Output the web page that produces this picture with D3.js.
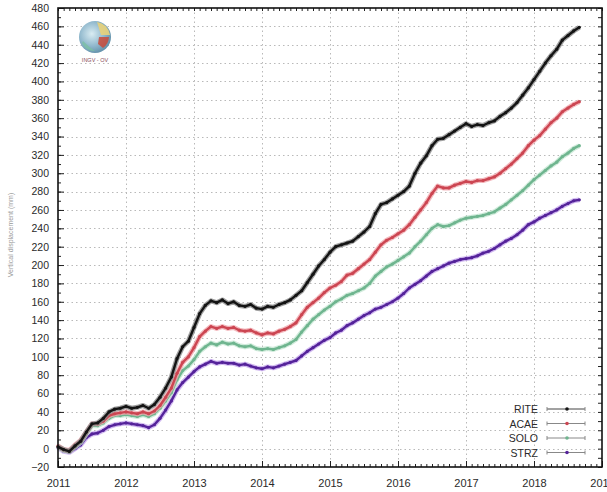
<!DOCTYPE html>
<html>
<head>
<meta charset="utf-8">
<script src="https://cdn.jsdelivr.net/npm/d3@7"></script>
<style>
  html, body { margin: 0; padding: 0; background: #fff; }
  svg { display: block; font-family: "Liberation Sans", Arial, sans-serif; }
</style>
</head>
<body>
<svg id="chart" width="607" height="492"></svg>
<script>
// Monthly samples, Jan 2011 onward (value in mm)
const startYear = 2011;
const stations = ["RITE", "ACAE", "SOLO", "STRZ"];
const rite = [2,-1,-3,3,8,18,27,28,33,40,43,44,
  46,44,45,47,44,48,56,66,78,98,111,117,
  132,147,156,161,159,162,158,160,156,155,157,153,
  152,155,154,157,159,162,167,172,181,190,199,206,
  214,220,222,224,226,231,236,242,256,266,268,272,
  276,280,286,300,311,319,330,337,338,342,346,350,
  354,351,353,352,355,357,362,366,371,377,385,393,
  402,411,420,428,435,445,450,455,459];
const acae = [3,-1,-2,4,9,18,27,27,30,36,38,39,
  40,39,38,40,38,41,47,56,66,82,94,100,
  110,122,128,133,131,133,131,132,129,128,129,126,
  124,126,125,128,130,133,137,146,154,159,164,170,
  175,178,182,189,191,196,201,206,214,222,227,230,
  234,238,244,252,260,268,278,286,284,284,287,289,
  291,290,292,292,294,296,300,305,310,316,322,330,
  336,341,348,355,360,367,371,375,378];
const solo = [2,-2,-3,2,7,16,25,25,28,33,36,36,
  37,36,35,37,35,38,44,52,61,75,85,90,
  97,106,111,115,113,116,114,115,112,111,112,109,
  108,109,108,110,112,115,119,127,134,141,146,151,
  155,160,163,167,169,172,175,180,188,193,198,201,
  205,209,213,220,226,233,240,244,242,243,246,249,
  251,252,253,254,256,258,262,266,271,276,281,287,
  293,298,303,308,312,318,322,327,330];
const strz = [1,-3,-4,0,4,12,16,17,20,24,26,27,
  28,27,26,25,23,26,33,42,52,64,72,78,
  84,89,92,95,93,94,93,93,91,92,90,88,
  87,89,88,90,92,94,96,101,106,110,114,118,
  121,126,129,134,137,141,145,148,152,154,157,160,
  164,169,175,179,183,188,193,196,199,202,204,206,
  207,208,210,213,215,218,222,226,229,233,238,244,
  247,251,254,257,260,264,267,270,271];
const yearTicks = [2011, 2012, 2013, 2014, 2015, 2016, 2017, 2018, 2019];
const valueTicks = d3.range(-20, 481, 20);

const seriesColors = ["#141414", "#cc4652", "#6fb58f", "#55239a"];
const haloColors = ["#8a8a8a", "#f0a8ae", "#c4e6d2", "#c6a8ec"];
const allSeries = [rite, acae, solo, strz];

const svg = d3.select("#chart");
const plotLeft = 58, plotRight = 602, plotTop = 8, plotBottom = 467;

const x = d3.scaleLinear().domain([2011, 2019]).range([plotLeft, plotRight]);
const y = d3.scaleLinear().domain([-20, 480]).range([plotBottom, plotTop]);

// dotted grid
const grid = svg.append("g").attr("stroke", "#b9b9b9").attr("stroke-width", 1)
  .attr("stroke-dasharray", "1.5,3");
grid.selectAll(".gy").data(valueTicks.slice(1, -1)).join("line")
  .attr("x1", plotLeft).attr("x2", plotRight)
  .attr("y1", d => Math.round(y(d)) + 0.5).attr("y2", d => Math.round(y(d)) + 0.5);
grid.selectAll(".gx").data(yearTicks.slice(1, -1)).join("line")
  .attr("y1", plotTop).attr("y2", plotBottom)
  .attr("x1", d => Math.round(x(d)) + 0.5).attr("x2", d => Math.round(x(d)) + 0.5);

// axes with inward ticks
const minorY = d3.range(-20, 481, 10);
const minorX = d3.range(0, 8 * 12 + 1).map(i => 2011 + i / 12);

svg.append("g").attr("transform", `translate(${plotLeft},0)`)
  .call(d3.axisLeft(y).tickValues(minorY).tickSize(-3).tickFormat(""))
  .call(g => g.select(".domain").remove());
svg.append("g").attr("transform", `translate(${plotLeft},0)`)
  .call(d3.axisLeft(y).tickValues(valueTicks).tickSize(-6).tickPadding(9).tickFormat(d3.format("d")))
  .call(g => g.select(".domain").remove())
  .call(g => g.selectAll("text").attr("font-size", 10.5).attr("fill", "#2a2a2a"));
svg.append("g").attr("transform", `translate(${plotRight},0)`)
  .call(d3.axisRight(y).tickValues(minorY).tickSize(-4).tickFormat(""))
  .call(g => g.select(".domain").remove());
svg.append("g").attr("transform", `translate(0,${plotBottom})`)
  .call(d3.axisBottom(x).tickValues(minorX).tickSize(-3).tickFormat(""))
  .call(g => g.select(".domain").remove());
svg.append("g").attr("transform", `translate(0,${plotBottom})`)
  .call(d3.axisBottom(x).tickValues(yearTicks).tickSize(-6).tickPadding(12).tickFormat(d3.format("d")))
  .call(g => g.select(".domain").remove())
  .call(g => g.selectAll("text").attr("font-size", 11).attr("fill", "#2a2a2a"));
svg.append("g").attr("transform", `translate(0,${plotTop})`)
  .call(d3.axisTop(x).tickValues(minorX).tickSize(-3).tickFormat(""))
  .call(g => g.select(".domain").remove());
svg.selectAll(".tick line").attr("stroke", "#222");

// y-axis title
svg.append("text")
  .attr("transform", "translate(13,235) rotate(-90)")
  .attr("text-anchor", "middle").attr("font-size", 7).attr("fill", "#9a9a9a")
  .text("Vertical displacement (mm)");

// series
const line = d3.line()
  .x((d, i) => x(startYear + i / 12))
  .y(d => y(d))
  .curve(d3.curveLinear);

const plot = svg.append("g");
[3, 2, 1, 0].forEach(k => {
  plot.append("path").datum(allSeries[k]).attr("d", line)
    .attr("fill", "none").attr("stroke", haloColors[k]).attr("stroke-width", 5)
    .attr("stroke-linejoin", "round").attr("opacity", 0.8);
  plot.append("path").datum(allSeries[k]).attr("d", line)
    .attr("fill", "none").attr("stroke", seriesColors[k]).attr("stroke-width", 2.4)
    .attr("stroke-linejoin", "round");
  plot.selectAll(null).data(allSeries[k]).join("circle")
    .attr("cx", (d, i) => x(startYear + i / 12)).attr("cy", d => y(d))
    .attr("r", 1.6).attr("fill", seriesColors[k]);
});

// frame
svg.append("rect").attr("x", plotLeft).attr("y", plotTop)
  .attr("width", plotRight - plotLeft).attr("height", plotBottom - plotTop)
  .attr("fill", "none").attr("stroke", "#111").attr("stroke-width", 1.6);

// legend
const legend = svg.append("g");
const legendY = [409, 423.5, 438, 452.5];
stations.forEach((name, k) => {
  const g = legend.append("g").attr("transform", `translate(0,${legendY[k]})`);
  g.append("text").attr("x", 538).attr("y", 4).attr("text-anchor", "end")
    .attr("font-size", 10.5).attr("fill", "#2a2a2a").text(name);
  g.append("line").attr("x1", 547).attr("x2", 585).attr("y1", 0).attr("y2", 0)
    .attr("stroke", k === 0 ? "#444" : "#888").attr("stroke-width", 1);
  g.append("line").attr("x1", 547).attr("x2", 547).attr("y1", -2).attr("y2", 2).attr("stroke", "#888");
  g.append("line").attr("x1", 585).attr("x2", 585).attr("y1", -2).attr("y2", 2).attr("stroke", "#888");
  g.append("circle").attr("cx", 567).attr("cy", 0).attr("r", 1.8).attr("fill", seriesColors[k]);
});

// logo
const defs = svg.append("defs");
const rg = defs.append("radialGradient").attr("id", "globe").attr("cx", "40%").attr("cy", "40%").attr("r", "65%");
rg.append("stop").attr("offset", "0%").attr("stop-color", "#d9ecf2");
rg.append("stop").attr("offset", "60%").attr("stop-color", "#8fb7cc");
rg.append("stop").attr("offset", "100%").attr("stop-color", "#5f8ea8");
const logo = svg.append("g").attr("transform", "translate(95,37)");
logo.append("circle").attr("r", 16).attr("fill", "url(#globe)");
logo.append("path").attr("d", "M2,-15 A15,15 0 0,1 15,-2 L6,-2 Z").attr("fill", "#e8d27a").attr("opacity", 0.9);
logo.append("path").attr("d", "M4,0 L14,0 A14,14 0 0,1 8,11 L3,7 Z").attr("fill", "#c94a3a").attr("opacity", 0.85);
logo.append("path").attr("d", "M-12,4 Q-6,10 0,14 A14,14 0 0,1 -13,6 Z").attr("fill", "#7cc0a4").attr("opacity", 0.8);
logo.append("text").attr("x", 0).attr("y", 25).attr("text-anchor", "middle")
  .attr("font-size", 5.5).attr("fill", "#8a4a5a").text("INGV - OV");
</script>
</body>
</html>
